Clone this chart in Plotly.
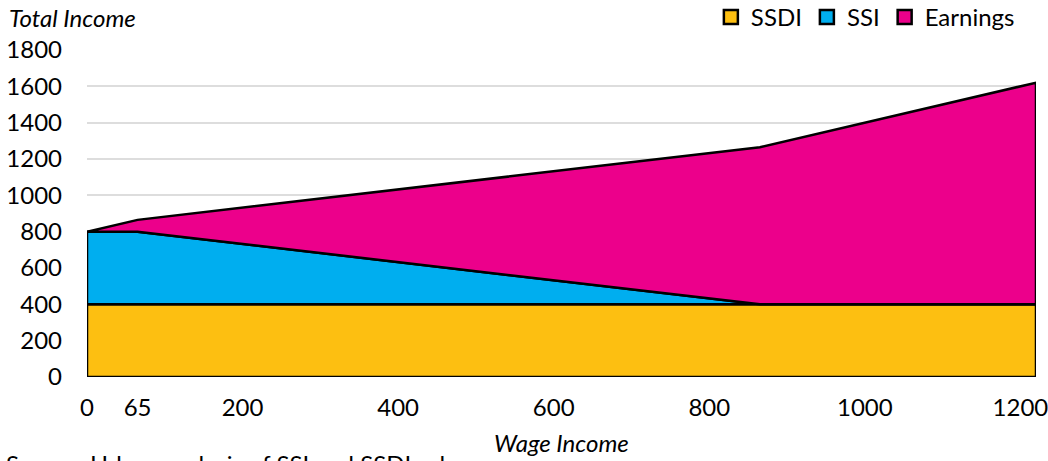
import plotly.graph_objects as go

# Data
wage = [0, 65, 865, 1220]
ssdi = [400, 400, 400, 400]
ssi = [400, 400, 0, 0]
earnings = [0, 65, 865, 1220]

x_ticks = [0, 65, 200, 400, 600, 800, 1000, 1200]
y_ticks = [0, 200, 400, 600, 800, 1000, 1200, 1400, 1600, 1800]

names = ["SSDI", "SSI", "Earnings"]
colors = ["#fdbf11", "#00aeef", "#ec008b"]
series = [ssdi, ssi, earnings]

FONT = "Lato"
FS = 24
fig = go.Figure()

lower = [0] * len(wage)
for name, col, vals in zip(names, colors, series):
    upper = [l + v for l, v in zip(lower, vals)]
    px = list(wage) + list(wage[::-1]) + [wage[0]]
    py = list(upper) + list(lower[::-1]) + [upper[0]]
    fig.add_trace(go.Scatter(
        x=px, y=py, mode="lines", fill="toself", fillcolor=col,
        line=dict(color="black", width=2.5), showlegend=False, hoverinfo="skip"))
    lower = upper

for name, col in zip(names, colors):
    fig.add_trace(go.Scatter(
        x=[None], y=[None], mode="markers", name=name,
        marker=dict(symbol="square", size=14, color=col,
                    line=dict(color="black", width=2.5))))

fig.update_layout(
    width=1048, height=461,
    margin=dict(l=87, r=12, t=50, b=84, autoexpand=False),
    plot_bgcolor="white", paper_bgcolor="white",
    font=dict(family=FONT, size=FS, color="black"),
    showlegend=True,
    legend=dict(orientation="h", x=0.983, xanchor="right", y=1.10, yanchor="middle",
                font=dict(size=FS, family=FONT), itemwidth=30, tracegroupgap=0,
                bgcolor="rgba(0,0,0,0)"),
    xaxis=dict(range=[0, 1220], tickvals=x_ticks, ticktext=[str(v) for v in x_ticks],
               showgrid=False, zeroline=False, showline=False, ticklabeloverflow="allow",
               ticks="", ticklabelstandoff=14, tickfont=dict(size=FS, family=FONT)),
    yaxis=dict(range=[0, 1800], tickvals=y_ticks, showgrid=True, gridcolor="#dddddd",
               gridwidth=2, zeroline=False, showline=False, ticks="",
               ticklabelstandoff=24, tickfont=dict(size=FS, family=FONT)),
    annotations=[
        dict(text="<i>Total Income</i>", xref="paper", yref="paper", x=-0.084, xanchor="left",
             y=1.10, yanchor="middle", showarrow=False, font=dict(size=FS, family=FONT)),
        dict(text="<i>Wage Income</i>", xref="paper", yref="paper", x=0.5, xanchor="center",
             y=-0.199, yanchor="middle", showarrow=False, font=dict(size=FS, family=FONT)),
        dict(text="Source: Urban analysis of SSI and SSDI rules.", xref="paper", yref="paper",
             x=-0.0875, xanchor="left", y=-0.214, yanchor="top", showarrow=False,
             font=dict(size=FS, family=FONT)),
    ],
)

fig.write_html("out.html")
